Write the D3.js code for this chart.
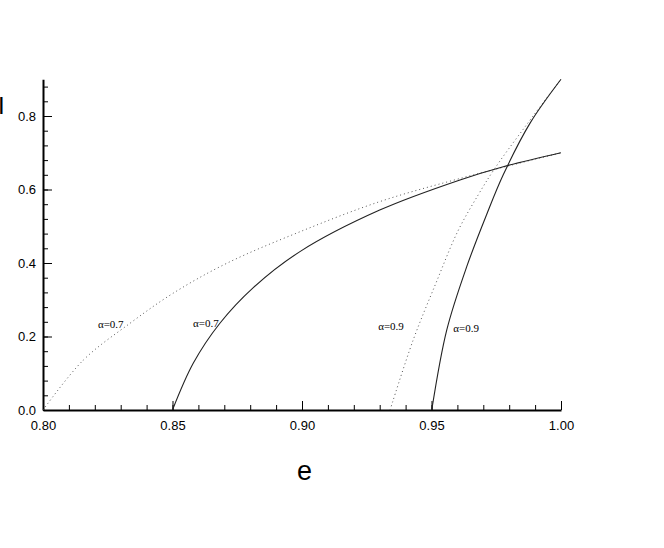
<!DOCTYPE html>
<html>
<head>
<meta charset="utf-8">
<script src="https://cdn.jsdelivr.net/npm/d3@7"></script>
<style>
    body { margin: 0; background: #fff; }
    svg { display: block; }
    .tick text { font-family: "Liberation Sans", Arial, sans-serif; font-size: 13px; fill: #000; }
    .curve-label { font-family: "Liberation Serif", "Times New Roman", serif; font-size: 11px; fill: #000; }
</style>
</head>
<body>
<div id="chart"></div>
<script>
"use strict";

// dotted curve, alpha = 0.7
const eDot07 = [0.800, 0.8156, 0.8336, 0.8503, 0.8709, 0.8992, 0.930, 0.961, 1.000];
const vDot07 = [0.000, 0.136, 0.236, 0.318, 0.399, 0.485, 0.567, 0.630, 0.700];

// solid curve, alpha = 0.7
const eSol07 = [0.850, 0.858, 0.8683, 0.8812, 0.8992, 0.930, 0.961, 0.9777, 1.000];
const vSol07 = [0.000, 0.127, 0.236, 0.333, 0.431, 0.544, 0.626, 0.662, 0.700];

// dotted curve, alpha = 0.9
const eDot09 = [0.934, 0.9429, 0.9517, 0.9602, 0.968, 0.9745, 0.9869, 1.000];
const vDot09 = [0.000, 0.190, 0.345, 0.487, 0.585, 0.658, 0.778, 0.900];

// solid curve, alpha = 0.9
const eSol09 = [0.9501, 0.9559, 0.9636, 0.9713, 0.9777, 0.988, 1.000];
const vSol09 = [0.000, 0.218, 0.390, 0.532, 0.640, 0.780, 0.900];

const xTicks = [0.80, 0.85, 0.90, 0.95, 1.00];
const yTicks = [0.0, 0.2, 0.4, 0.6, 0.8];

const curveLabels = [
    { text: "α=0.7", e: 0.8212, v: 0.223 },
    { text: "α=0.7", e: 0.8579, v: 0.226 },
    { text: "α=0.9", e: 0.9294, v: 0.218 },
    { text: "α=0.9", e: 0.9584, v: 0.212 }
];

(function () {
    const width = 664;
    const height = 548;

    const x = d3.scaleLinear().domain([0.8, 1.0]).range([43, 561]);
    const y = d3.scaleLinear().domain([0, 0.9]).range([410, 79.25]);

    const svg = d3.select("#chart")
        .append("svg")
        .attr("width", width)
        .attr("height", height);

    // minor ticks
    const minorX = d3.range(0.80, 1.0001, 0.01).map(d => +d.toFixed(2));
    const minorY = d3.range(0, 0.9001, 0.04).map(d => +d.toFixed(2));

    svg.append("g")
        .attr("transform", "translate(0,410)")
        .call(d3.axisBottom(x).tickValues(minorX).tickSize(-5).tickFormat(""))
        .call(g => g.select(".domain").remove())
        .call(g => g.selectAll("line").attr("stroke", "#000"));

    svg.append("g")
        .attr("transform", "translate(43,0)")
        .call(d3.axisLeft(y).tickValues(minorY).tickSize(-5).tickFormat(""))
        .call(g => g.select(".domain").remove())
        .call(g => g.selectAll("line").attr("stroke", "#000"));

    // major ticks with labels
    const xAxis = svg.append("g")
        .attr("transform", "translate(0,410)")
        .call(d3.axisBottom(x)
            .tickValues(xTicks)
            .tickSizeInner(-9)
            .tickSizeOuter(0)
            .tickPadding(11)
            .tickFormat(d3.format(".2f")));
    xAxis.select(".domain").attr("stroke-width", 2);
    xAxis.selectAll("line").attr("stroke", "#000");

    const yAxis = svg.append("g")
        .attr("transform", "translate(43,0)")
        .call(d3.axisLeft(y)
            .tickValues(yTicks)
            .tickSizeInner(-9)
            .tickSizeOuter(0)
            .tickPadding(7)
            .tickFormat(d3.format(".1f")));
    yAxis.select(".domain").attr("stroke-width", 2);
    yAxis.selectAll("line").attr("stroke", "#000");

    const line = d3.line()
        .x(d => x(d[0]))
        .y(d => y(d[1]))
        .curve(d3.curveCatmullRom.alpha(0.5));

    const series = [
        { e: eDot07, v: vDot07, dotted: true },
        { e: eSol07, v: vSol07, dotted: false },
        { e: eDot09, v: vDot09, dotted: true },
        { e: eSol09, v: vSol09, dotted: false }
    ];

    for (let s of series) {
        svg.append("path")
            .datum(d3.zip(s.e, s.v))
            .attr("d", line)
            .attr("fill", "none")
            .attr("stroke", s.dotted ? "#555" : "#222")
            .attr("stroke-width", s.dotted ? 1 : 1.1)
            .attr("stroke-dasharray", s.dotted ? "1,3" : null);
    }

    svg.selectAll(".curve-label")
        .data(curveLabels)
        .enter()
        .append("text")
        .attr("class", "curve-label")
        .attr("x", d => x(d.e))
        .attr("y", d => y(d.v))
        .text(d => d.text);

    // axis titles
    svg.append("text")
        .attr("x", 304.5)
        .attr("y", 480)
        .attr("text-anchor", "middle")
        .style("font-family", "Liberation Sans, Arial, sans-serif")
        .style("font-size", "27px")
        .text("e");

    svg.append("text")
        .attr("x", -2)
        .attr("y", 114)
        .style("font-family", "Liberation Sans, Arial, sans-serif")
        .style("font-size", "24px")
        .text("I");
})();
</script>
</body>
</html>
